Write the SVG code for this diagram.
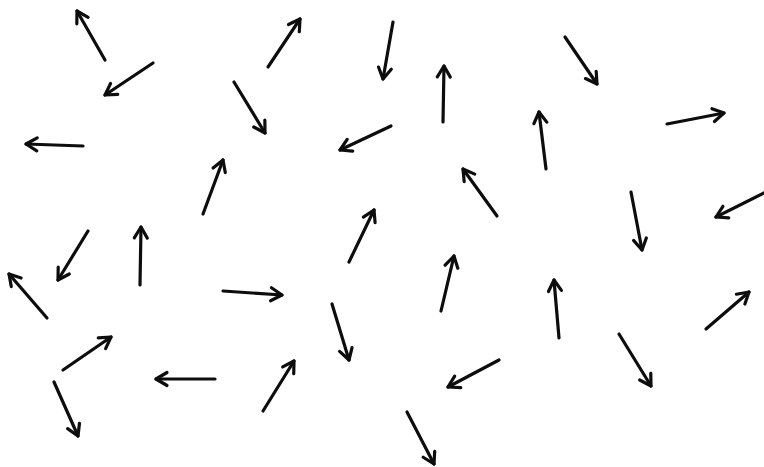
<svg xmlns="http://www.w3.org/2000/svg" width="764" height="467" viewBox="0 0 764 467">
<style>
.a{stroke:#0d0d0d;stroke-width:3.2;stroke-linecap:round;fill:none;marker-end:url(#h)}
</style>
<defs>
<marker id="h" markerUnits="userSpaceOnUse" viewBox="-14 -9 16 18" refX="0" refY="0" markerWidth="16" markerHeight="18" orient="auto" overflow="visible">
<path d="M-11,-6.5 L0,0 L-11,6.5" fill="none" stroke="#0d0d0d" stroke-width="3.2" stroke-linecap="round" stroke-linejoin="round"/>
</marker>
</defs>
<rect width="764" height="467" fill="#fff"/>
<g id="arrows">
<g id="a1"><line class="a" x1="105" y1="60" x2="77" y2="11"/></g>
<g id="a2"><line class="a" x1="153" y1="63" x2="105" y2="95"/></g>
<g id="a3"><line class="a" x1="83" y1="146" x2="26" y2="144"/></g>
<g id="a4"><line class="a" x1="203" y1="214" x2="223" y2="160"/></g>
<g id="a5"><line class="a" x1="268" y1="67" x2="300" y2="19"/></g>
<g id="a6"><line class="a" x1="393" y1="22" x2="383" y2="79"/></g>
<g id="a7"><line class="a" x1="443" y1="122" x2="444" y2="66"/></g>
<g id="a8"><line class="a" x1="391" y1="126" x2="340" y2="150"/></g>
<g id="a9"><line class="a" x1="497" y1="216" x2="463" y2="169"/></g>
<g id="a10"><line class="a" x1="349" y1="262" x2="374" y2="210"/></g>
<g id="a11"><line class="a" x1="234" y1="82" x2="265" y2="133"/></g>
<g id="a12"><line class="a" x1="565" y1="37" x2="597" y2="84"/></g>
<g id="a13"><line class="a" x1="546" y1="169" x2="539" y2="112"/></g>
<g id="a14"><line class="a" x1="667" y1="124" x2="724" y2="113"/></g>
<g id="a15"><line class="a" x1="764" y1="193" x2="716" y2="217"/></g>
<g id="a16"><line class="a" x1="631" y1="192" x2="642" y2="250"/></g>
<g id="a17"><line class="a" x1="88" y1="231" x2="58" y2="280"/></g>
<g id="a18"><line class="a" x1="140" y1="285" x2="141" y2="227"/></g>
<g id="a19"><line class="a" x1="47" y1="318" x2="9" y2="274"/></g>
<g id="a20"><line class="a" x1="223" y1="291" x2="282" y2="295"/></g>
<g id="a21"><line class="a" x1="63" y1="370" x2="111" y2="337"/></g>
<g id="a22"><line class="a" x1="215" y1="379" x2="156" y2="379"/></g>
<g id="a23"><line class="a" x1="54" y1="382" x2="78" y2="436"/></g>
<g id="a24"><line class="a" x1="332" y1="304" x2="349" y2="360"/></g>
<g id="a25"><line class="a" x1="441" y1="311" x2="454" y2="256"/></g>
<g id="a26"><line class="a" x1="499" y1="360" x2="448" y2="387"/></g>
<g id="a27"><line class="a" x1="263" y1="411" x2="294" y2="361"/></g>
<g id="a28"><line class="a" x1="407" y1="412" x2="434" y2="464"/></g>
<g id="a29"><line class="a" x1="559" y1="338" x2="554" y2="280"/></g>
<g id="a30"><line class="a" x1="706" y1="329" x2="749" y2="292"/></g>
<g id="a31"><line class="a" x1="619" y1="334" x2="651" y2="386"/></g>
</g>
</svg>
